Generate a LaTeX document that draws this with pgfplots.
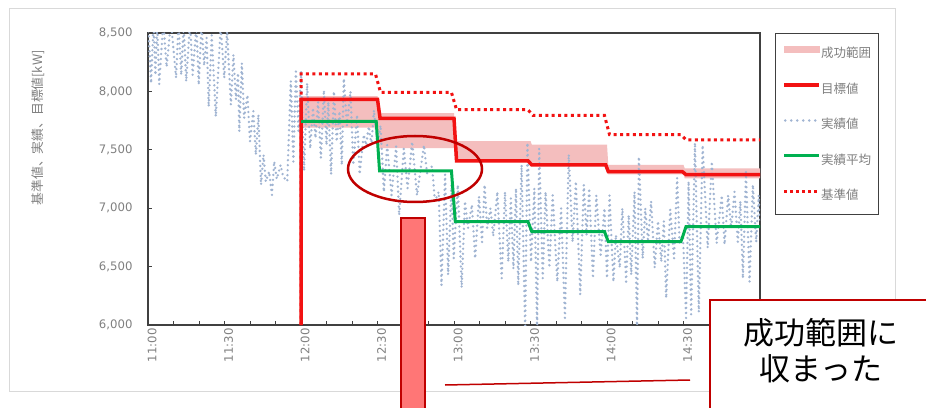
\documentclass[border=0pt]{standalone}
\usepackage{fontspec}
\setmainfont{DejaVu Sans}
\newfontfamily\jp{Noto Sans CJK JP}
\usepackage{pgfplots}
\pgfplotsset{compat=1.18}

\definecolor{tgt}{RGB}{242,18,18}
\definecolor{avg}{RGB}{0,176,80}
\definecolor{act}{RGB}{160,180,210}
\definecolor{band}{RGB}{244,190,190}
\definecolor{dred}{RGB}{192,0,0}
\definecolor{salmon}{RGB}{255,118,118}
\definecolor{txtgray}{RGB}{128,128,128}
\definecolor{axgray}{RGB}{64,64,64}
\definecolor{framegray}{RGB}{217,217,217}

\begin{document}
\begin{tikzpicture}
\useasboundingbox (0pt,0pt) rectangle (926pt,407pt);
\fill[white] (0pt,0pt) rectangle (926pt,407pt);
% chart frame
\draw[framegray, line width=1pt] (9pt,16pt) rectangle (895pt,398pt);

\begin{axis}[
    at={(148pt,82pt)}, anchor=south west,
    scale only axis, width=612pt, height=292pt,
    xmin=0, xmax=240, ymin=6000, ymax=8500,
    axis line style={draw=axgray, line width=1.2pt},
    tick style={draw=axgray, line width=1pt},
    tick align=inside, tick pos=left,
    major tick length=4pt, minor tick length=4pt,
    xtick={0,30,...,210},
    xticklabels={11:00,11:30,12:00,12:30,13:00,13:30,14:00,14:30},
    minor xtick={10,20,40,50,70,80,100,110,130,140,160,170,190,200,220,230},
    ytick={6000,6500,...,8500},
    xticklabel style={rotate=90, anchor=east, yshift=-4pt,
        font=\fontsize{11.7}{14}\selectfont, text=txtgray},
    yticklabel style={xshift=-12pt, font=\fontsize{11.7}{14}\selectfont, text=txtgray,
        /pgf/number format/.cd, 1000 sep={,}, assume math mode=true},
    scaled y ticks=false,
    ylabel={\jp 基準値、実績、目標値[kW]},
    ylabel style={at={(axis description cs:-0.18,0.675)}, anchor=center,
        font=\fontsize{12.8}{15}\selectfont, text=txtgray},
    legend style={at={(1.0245,1)}, anchor=north west,
        draw=axgray, line width=1pt, inner xsep=7pt, inner ysep=12.5pt,
        row sep=23pt, font=\jp\fontsize{12.5}{14}\selectfont, text=txtgray,
        nodes={inner sep=0pt, text height=10pt, text depth=2.5pt},
        /tikz/every even column/.append style={column sep=3pt}},
    legend cell align=left,
]

% legend entries
\addlegendimage{legend image code/.code={\fill[band] (0pt,1.5pt) rectangle (35pt,7.5pt);}}
\addlegendentry{成功範囲}
\addlegendimage{legend image code/.code={\draw[tgt, line width=3.5pt] (0pt,4.5pt) -- (35pt,4.5pt);}}
\addlegendentry{目標値}
\addlegendimage{legend image code/.code={\draw[act, line width=2.6pt, line cap=round, dash pattern=on 0pt off 6pt] (1pt,4.5pt) -- (35pt,4.5pt);}}
\addlegendentry{実績値}
\addlegendimage{legend image code/.code={\draw[avg, line width=3pt] (0pt,4.5pt) -- (35pt,4.5pt);}}
\addlegendentry{実績平均}
\addlegendimage{legend image code/.code={\draw[tgt, line width=3pt, dash pattern=on 3pt off 3pt] (0pt,4.5pt) -- (35pt,4.5pt);}}
\addlegendentry{基準値}

% success range (band)
\addplot[draw=none, fill=band, forget plot] coordinates {
(60,7960) (90,7960) (91,7815) (120,7815) (120.5,7575) (150,7575) (150.5,7545)
(180,7545) (180.5,7370) (210,7370) (210.5,7340) (240,7340)
(240,7255) (210.5,7255) (210,7290) (180.5,7290) (180,7370) (150.5,7370)
(150,7400) (120.5,7400) (120,7515) (91,7515) (90,7690) (60,7690)
} -- cycle;

% actual values
\addplot[act, line width=2.6pt, line cap=round, dash pattern=on 0pt off 5pt, forget plot] coordinates {
(0,8600) (1.2,8070) (2.2,8600) (2.9,8140) (3.6,8600) (4.4,8060) (6,8600) (7.3,8210)
(9,8600) (11,8115) (12,8600) (13,8140) (14,8560) (15,8085) (16.5,8600) (17.5,8140)
(19,8560) (19.9,8057) (21,8580) (22,8220) (23,8460) (23.8,7870) (25,8480) (26.6,7785)
(28.5,8560) (29.9,8115) (31,8520) (32.5,7885) (33.5,8314) (34.5,7930) (35.3,8157)
(35.8,7657) (36.8,8243) (37.7,7771) (39,7970) (40,7571) (41.3,7830) (42.3,7457)
(43.3,7800) (44.3,7200) (45.3,7457) (46.2,7228) (47.5,7314) (48.6,7114) (49.5,7400)
(50.5,7250) (52,7370) (53,7270) (54.6,7230) (56,8090) (57,7400) (58,8170) (59,7660)
(60,8170) (61.2,7320) (62.4,8070) (63.6,7510) (64.7,7860) (65.7,7600) (66.7,7910)
(67.8,7430) (69,8010) (70,7540) (70.7,7910) (71.8,7290) (72.9,8000) (74,7570)
(75.1,7830) (76,7370) (76.8,8110) (78,7710) (79.4,8000) (80.5,7370) (82,7800)
(83,7290) (84.6,7630) (85.5,7540) (86.6,7700) (87.6,7540) (88.6,7840) (90,7540)
(91.2,7710) (92.5,7140) (93.8,7540) (95.5,7110) (97.3,7530) (98.5,6940) (100.3,7510)
(101.8,7170) (103.6,7570) (105.5,7110) (108.2,7540) (109.5,7290) (111.4,7360)
(112.5,7060) (114,7140) (115.1,6340) (116.5,7290) (117.7,6430) (119,7200) (119.9,6570)
(121.5,7200) (123,6320) (124.3,7060) (125.5,6830) (127,7030) (128.3,6570) (129.8,7100)
(131,6710) (132,7200) (133,6830) (134.3,7000) (135.4,6760) (137,7140) (138.7,6400)
(140,7140) (141.3,6540) (142.3,7085) (143.3,6480) (144.3,7170) (145.2,6340) (146.5,7370)
(147.9,5950) (148.8,7560) (150.2,6540) (151.5,7170) (152.6,5950) (153.4,7510)
(154.8,6400) (155.9,7140) (157.4,6490) (158.7,7110) (160.5,6370) (162,7000) (163.5,6060)
(165,7460) (166.5,6710) (167.8,7230) (169.5,6260) (170.9,7200) (172,6770) (173,7170)
(174.5,6400) (175.8,7110) (177.5,6600) (179,7000) (180,6400) (181,7110) (182.5,6370)
(183.5,6770) (185,6490) (186,7000) (187.5,6370) (188.5,6940) (189.5,6430) (190.8,7140)
(191.8,5950) (192.5,7440) (194,6570) (195,7000) (196.1,6710) (197.3,7060) (198.7,6490)
(200,6890) (201.3,6540) (202.3,6890) (203.2,6230) (204.8,6990) (206.3,6570) (207.5,7260)
(208.5,6690) (209.8,6770) (211,6060) (212,7230) (213,6090) (214.5,7560) (216,6110)
(217.5,7540) (219.5,6660) (221.1,7400) (223,6700) (225,7110) (226.1,6690) (227.5,7110)
(228.7,6830) (230,7140) (231.3,6710) (232.3,7060) (233.3,6400) (234.5,7310) (235.9,6370)
(237.2,7200) (238.5,6710) (239.5,7110) (240,6900)
};

% target
\addplot[tgt, line width=3.5pt, forget plot] coordinates {
(60,6000) (60,7932) (90,7932) (91,7770) (120,7770) (121,7406) (149,7406) (150.5,7371)
(179.5,7371) (180.5,7314) (209.5,7314) (211,7287) (240,7287)
};

% actual average
\addplot[avg, line width=3pt, forget plot] coordinates {
(60,7743) (89.5,7743) (90.8,7320) (119,7320) (120.5,6886) (149,6886) (150.5,6800)
(179,6800) (180.5,6714) (209,6714) (211,6843) (240,6843)
};

% baseline
\addplot[tgt, line width=3pt, dash pattern=on 3pt off 3.4pt, forget plot] coordinates {
(60,6000) (60,8149) (89.2,8149) (91.2,7991) (119,7991) (121,7843) (149,7843) (151,7794)
(179,7794) (181,7629) (209,7629) (211,7586) (240,7586)
};
\end{axis}

% annotations
\draw[dred, line width=2.5pt] (415pt,238pt) ellipse [x radius=67pt, y radius=33pt];
\draw[dred, line width=1.5pt, fill=salmon] (401pt,189pt) rectangle (425pt,-5pt);
\draw[dred, line width=1.5pt] (445pt,22pt) -- (690pt,27pt);
\draw[dred, line width=2pt, fill=white] (710pt,107pt) rectangle (940pt,-10pt);
\node[align=center, font=\jp\fontsize{31}{36}\selectfont, text=black] at (821pt,56pt)
    {成功範囲に\\収まった};
\end{tikzpicture}
\end{document}
